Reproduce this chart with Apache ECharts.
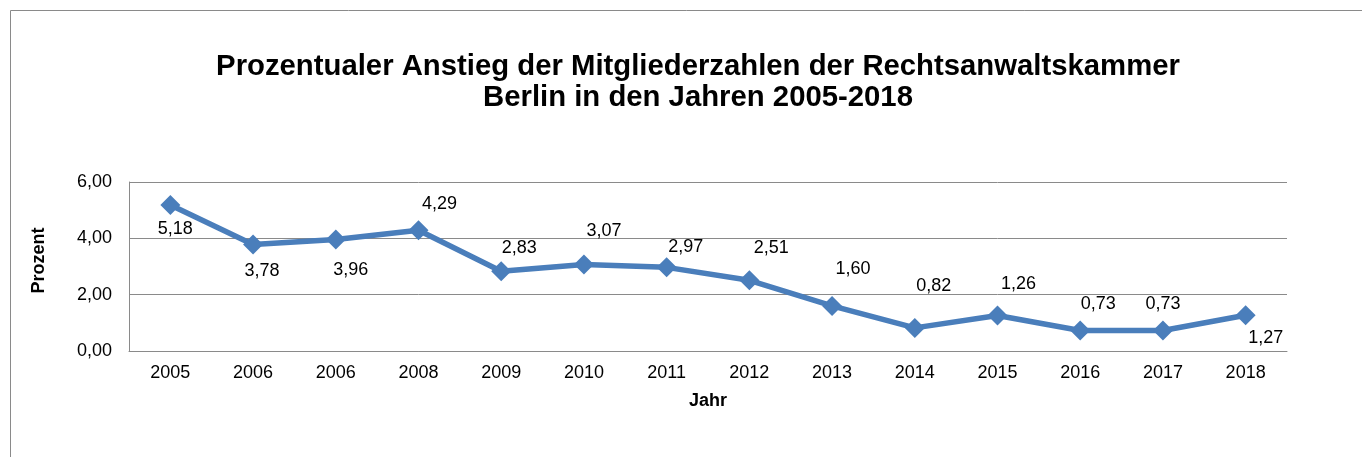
<!DOCTYPE html>
<html>
<head>
<meta charset="utf-8">
<script src="https://cdn.jsdelivr.net/npm/echarts@6/dist/echarts.min.js"></script>
<style>
  html, body { margin: 0; padding: 0; background: #fff; }
  #container { width: 1362px; height: 457px; }
</style>
</head>
<body>
<div id="container"></div>
<script>
// data
var years = ['2005', '2006', '2006', '2008', '2009', '2010', '2011', '2012', '2013', '2014', '2015', '2016', '2017', '2018'];
var anstieg = [5.18, 3.78, 3.96, 4.29, 2.83, 3.07, 2.97, 2.51, 1.60, 0.82, 1.26, 0.73, 0.73, 1.27];
var yTicks = [0, 2, 4, 6];

// label offsets (center of label relative to point)
var labelOffsets = [[5, 24], [9, 27], [15, 31], [21, -26], [18, -23], [20, -33], [19, -20],
    [22, -32], [21, -37], [19, -42], [21, -31], [18, -26], [0, -26], [20, 23]];

var fmt = function (v) { return v.toFixed(2).replace('.', ','); };

var dom = document.getElementById('container');
var myChart = echarts.init(dom, null, { renderer: 'canvas' });

var option = {
    animation: false,
    textStyle: { fontFamily: 'Liberation Sans, Arial, sans-serif', color: '#000' },
    graphic: [{
        type: 'rect',
        shape: { x: 10.5, y: 10.5, width: 1400, height: 500 },
        style: { fill: 'none', stroke: '#8a8a8a', lineWidth: 1 },
        silent: true
    }],
    title: {
        text: 'Prozentualer Anstieg der Mitgliederzahlen der Rechtsanwaltskammer\nBerlin in den Jahren 2005-2018',
        left: 698,
        top: 51,
        textAlign: 'center',
        padding: 0,
        textStyle: {
            fontFamily: 'Liberation Sans, Arial, sans-serif',
            fontSize: 29.3,
            lineHeight: 31,
            fontWeight: 'bold',
            color: '#000'
        }
    },
    grid: { left: 129, right: 75, top: 182, bottom: 106, containLabel: false },
    xAxis: {
        type: 'category',
        data: years,
        boundaryGap: true,
        name: 'Jahr',
        nameLocation: 'middle',
        nameGap: 41,
        nameTextStyle: { fontSize: 18, fontWeight: 'bold', color: '#000' },
        axisLine: { show: true, lineStyle: { color: '#8a8a8a', width: 1 } },
        axisTick: { show: false },
        axisLabel: { fontSize: 18, color: '#000', margin: 13, interval: 0 }
    },
    yAxis: {
        type: 'value',
        min: yTicks[0],
        max: yTicks[yTicks.length - 1],
        interval: 2,
        name: 'Prozent',
        nameLocation: 'middle',
        nameRotate: 90,
        nameGap: 81,
        nameTextStyle: { fontSize: 18, fontWeight: 'bold', color: '#000', padding: [0, 0, 0, 12] },
        axisLine: { show: true, lineStyle: { color: '#8a8a8a', width: 1 } },
        axisTick: { show: false },
        splitLine: { show: true, lineStyle: { color: '#8a8a8a', width: 1 } },
        axisLabel: { fontSize: 18, color: '#000', margin: 17, formatter: fmt }
    },
    series: [{
        type: 'line',
        data: anstieg.map(function (v, i) {
            return { value: v, label: { offset: labelOffsets[i] } };
        }),
        symbol: 'diamond',
        symbolSize: 20,
        lineStyle: { color: '#4a7ebb', width: 5.5 },
        itemStyle: { color: '#4a7ebb' },
        label: {
            show: true,
            position: 'inside',
            fontSize: 18,
            color: '#000',
            formatter: function (p) { return fmt(p.value); }
        }
    }]
};

myChart.setOption(option);
window.addEventListener('resize', myChart.resize);
</script>
</body>
</html>
